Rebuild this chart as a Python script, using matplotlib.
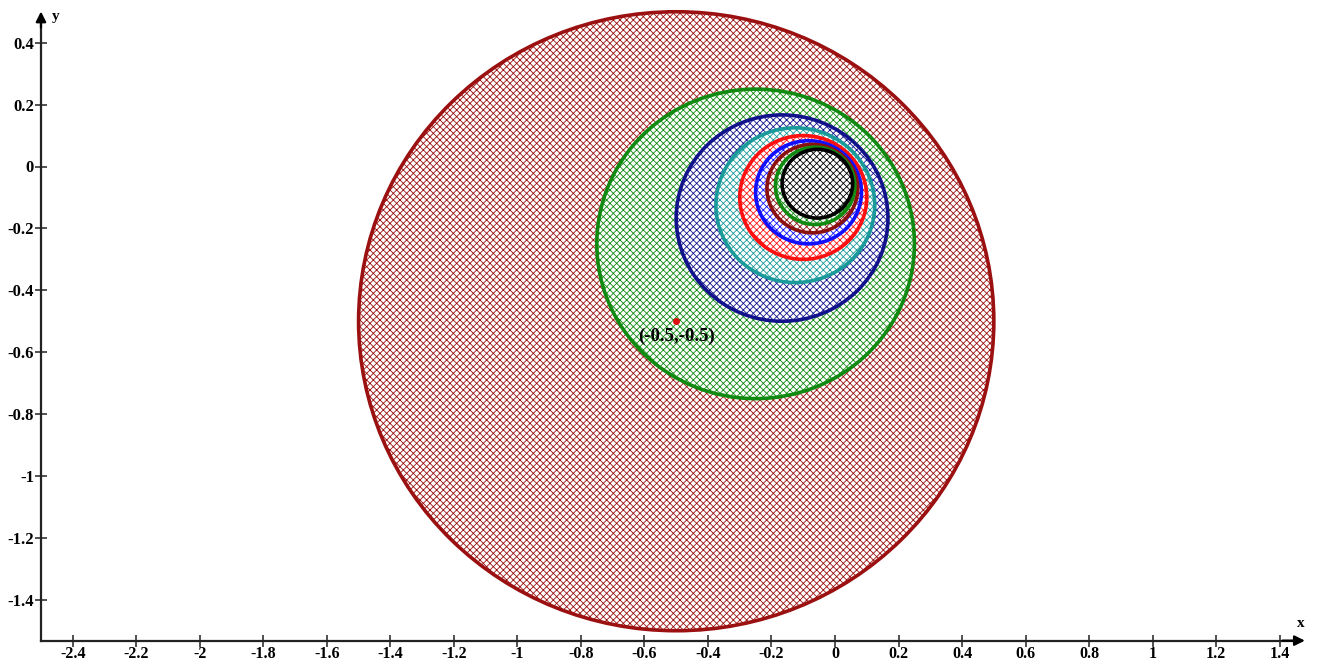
import matplotlib
matplotlib.use("Agg")
import matplotlib.pyplot as plt
from matplotlib.patches import Circle

plt.rcParams['font.family'] = ['Liberation Serif', 'DejaVu Serif']
plt.rcParams['hatch.linewidth'] = 0.6

# circles |z + 1/(2n)(1+i)| = 1/n, n = 1..9
centers_x = [-0.5, -0.25, -1/6, -0.125, -0.1, -1/12, -1/14, -0.0625, -1/18]
centers_y = [-0.5, -0.25, -1/6, -0.125, -0.1, -1/12, -1/14, -0.0625, -1/18]
radii = [1.0, 0.5, 1/3, 0.25, 0.2, 1/6, 1/7, 0.125, 1/9]
colors = ['#9b1010', '#108a10', '#12128c', '#1a9a9a', '#ff1010',
          '#1010ff', '#8b1010', '#108a10', '#000000']

point = (-0.5, -0.5)
point_label = '(-0.5,-0.5)'

xticks = [-2.4, -2.2, -2, -1.8, -1.6, -1.4, -1.2, -1, -0.8, -0.6, -0.4,
          -0.2, 0, 0.2, 0.4, 0.6, 0.8, 1, 1.2, 1.4]
yticks = [-1.4, -1.2, -1, -0.8, -0.6, -0.4, -0.2, 0, 0.2, 0.4]


fig = plt.figure(figsize=(13.34, 6.66), dpi=100)
ax = fig.add_axes([0, 0, 1, 1])
ax.set_xlim(-2.629, 1.571)
ax.set_ylim(-1.614, 0.538)

# filled cross-hatched discs, largest first
for cx, cy, r, c in zip(centers_x, centers_y, radii, colors):
    ax.add_patch(Circle((cx, cy), r, facecolor='white', edgecolor=c,
                        hatch='xxxxx', linewidth=0, zorder=2))
    ax.add_patch(Circle((cx, cy), r, facecolor='none', edgecolor=c,
                        linewidth=2.6, zorder=3))

ax.plot(point[0], point[1], 'o', color='#e01010', markersize=4, zorder=5)
ax.text(point[0], point[1] - 0.02, point_label, ha='center', va='top',
        fontsize=13.5, fontweight='bold', zorder=5)

# axes drawn as arrows at the lower left
x0, y0 = -2.5, -1.532
for s in ['top', 'right']:
    ax.spines[s].set_visible(False)
ax.spines['left'].set_position(('data', x0))
ax.spines['bottom'].set_position(('data', y0))
ax.spines['left'].set_bounds(y0, 0.48)
ax.spines['bottom'].set_bounds(x0, 1.46)
for s in ['left', 'bottom']:
    ax.spines[s].set_linewidth(1.6)
    ax.spines[s].set_color('#222222')
ax.annotate('', xy=(x0, 0.51), xytext=(x0, 0.44),
            arrowprops=dict(arrowstyle='-|>,head_length=0.6,head_width=0.3',
                            color='black', lw=1.6))
ax.annotate('', xy=(1.488, y0), xytext=(1.40, y0),
            arrowprops=dict(arrowstyle='-|>,head_length=0.6,head_width=0.3',
                            color='black', lw=1.6))
ax.text(x0 + 0.035, 0.485, 'y', fontsize=11, fontweight='bold', va='center')
ax.text(1.467, y0 + 0.045, 'x', fontsize=11, fontweight='bold', ha='center')

ax.set_xticks(xticks)
ax.set_xticklabels(['%g' % v for v in xticks])
ax.set_yticks(yticks)
ax.set_yticklabels(['%g' % v for v in yticks])
ax.tick_params(direction='inout', length=8, width=1.1, color='#222222',
               labelsize=12, pad=1)
ax.tick_params(axis='x', labelsize=11.5, pad=0)
for lab in ax.get_xticklabels() + ax.get_yticklabels():
    lab.set_fontweight('bold')

fig.savefig('out.png', dpi=100)
